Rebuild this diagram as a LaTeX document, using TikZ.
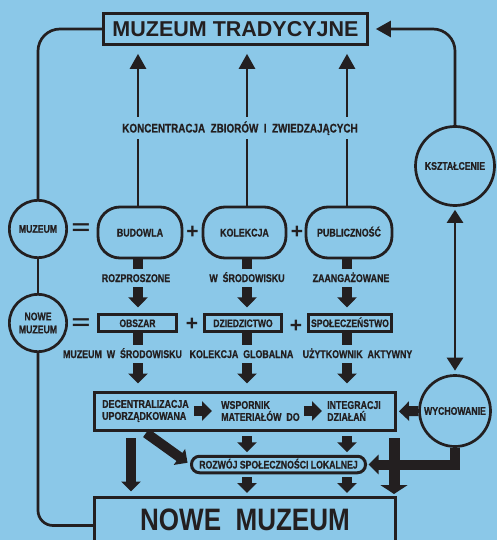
\documentclass[tikz,border=0pt]{standalone}
\usepackage{fontspec}
\usepackage{graphicx}
\setmainfont{Liberation Sans}
\newfontfamily\nf{Liberation Sans}[FakeStretch=0.79,FakeBold=0.7]
\newfontfamily\nmf{Liberation Sans}[FakeStretch=0.84]
\newfontfamily\wf{Liberation Sans}
\usetikzlibrary{arrows.meta,calc}
\definecolor{bg}{HTML}{8BC8E8}
\definecolor{ink}{HTML}{231F20}
\begin{document}
\begin{tikzpicture}[x=1pt,y=-1pt,
  every node/.style={text=ink},
  lbl/.style={font=\nf\bfseries\fontsize{11.2}{13}\selectfont, inner sep=0pt, text height=8pt, text depth=0pt},
  mlbl/.style={font=\nf\bfseries\fontsize{11.2}{12}\selectfont, inner sep=0pt, align=left, anchor=west},
  thinline/.style={draw=ink, line width=2.7pt},
  thinarrow/.style={thinline, -{Triangle[width=16pt,length=15pt]}},
  fat/.style={draw=ink, line width=10pt, -{Triangle[width=19pt,length=10pt]}},
  fatbig/.style={draw=ink, line width=11pt, -{Triangle[width=27pt,length=9pt]}},
  stub/.style={draw=ink, line width=10pt},
  rbox/.style={lbl, draw=ink, line width=2.8pt, rounded corners=22pt, minimum height=51pt},
  sbox/.style={lbl, draw=ink, line width=3.2pt, minimum height=17pt, font=\nf\bfseries\fontsize{10.8}{12}\selectfont},
  circ/.style={draw=ink, circle, line width=2.7pt, inner sep=0pt, align=center, font=\nf\bfseries\fontsize{11}{13}\selectfont},
  sign/.style={font=\wf\bfseries\fontsize{21}{21}\selectfont, inner sep=0pt},
  eqsign/.style={font=\wf\bfseries\fontsize{32}{32}\selectfont, inner sep=0pt},
]
\fill[bg] (0,0) rectangle (497,540);
\useasboundingbox (0,0) rectangle (497,540);

\coordinate (cA) at (138,0);
\coordinate (cB) at (247,0);
\coordinate (cC) at (347,0);

% title
\node[draw=ink, line width=2.7pt, minimum width=264pt, minimum height=31pt, inner sep=0pt,
      text height=15.5pt, text depth=0pt, font=\wf\bfseries\fontsize{21.5}{22}\selectfont]
      (title) at (235.5,29) {MUZEUM TRADYCYJNE};
\node[lbl, font=\nf\bfseries\fontsize{12.5}{14}\selectfont, text height=9pt, minimum height=22pt]
      (konc) at (240,128) {KONCENTRACJA\ \ ZBIORÓW\ \ I\ \ ZWIEDZAJĄCYCH};

% circles
\node[circ, minimum size=57.3pt] (muzeum) at (38,229) {MUZEUM};
\node[circ, minimum size=57.3pt] (nowe) at (38,323) {NOWE\\MUZEUM};
\node[circ, minimum size=79pt] (kszt) at (455,166) {KSZTAŁCENIE};
\node[circ, minimum size=71pt] (wych) at (455,411) {WYCHOWANIE};

% row 1
\node[rbox, minimum width=84pt] (budowla) at (140,232.5) {BUDOWLA};
\node[rbox, minimum width=83pt] (kolekcja) at (244.5,232.5) {KOLEKCJA};
\node[rbox, minimum width=86pt] (publ) at (349,232.5) {PUBLICZNOŚĆ};
\node[eqsign] (eq1) at (81,229.5) {\scalebox{1}[0.65]{=}};
\node[sign] (p1) at (192.5,232) {+};
\node[sign] (p2) at (297,232) {+};

% row 2
\node[sbox, minimum width=78pt] (obszar) at (137.5,323) {OBSZAR};
\node[sbox, minimum width=77pt] (dziedz) at (243,323) {DZIEDZICTWO};
\node[sbox, minimum width=83pt] (spol) at (350,323) {SPOŁECZEŃSTWO};
\node[eqsign] (eq2) at (81,324.5) {\scalebox{1}[0.65]{=}};
\node[sign] (p3) at (192,324.5) {+};
\node[sign] (p4) at (296,326) {+};

% labels
\node[lbl, minimum height=18pt] (rozp) at (136,278) {ROZPROSZONE};
\node[lbl, minimum height=18pt] (wsr) at (247,278) {W\ \ ŚRODOWISKU};
\node[lbl, minimum height=18pt] (zaang) at (351,278) {ZAANGAŻOWANE};
\node[lbl, minimum height=18pt] (mws) at (122.5,354) {MUZEUM\ \ W\ \ ŚRODOWISKU};
\node[lbl, minimum height=18pt] (kglob) at (241.5,354) {KOLEKCJA\ \ GLOBALNA};
\node[lbl, minimum height=18pt] (uzyt) at (357.5,354) {UŻYTKOWNIK\ \ AKTYWNY};

% big box
\node[draw=ink, line width=3pt, minimum width=301pt, minimum height=38pt, inner sep=0pt] (big) at (245,411.5) {};
\node[mlbl] (dec) at (102,411) {DECENTRALIZACJA\\UPORZĄDKOWANA};
\node[mlbl] (wsp) at (221,411) {WSPORNIK\\MATERIAŁÓW\ \ DO};
\node[mlbl] (integ) at (327,411) {INTEGRACJI\\DZIAŁAŃ};

% rozwoj
\node[lbl, draw=ink, line width=3pt, rounded corners=8pt, minimum width=174pt, minimum height=16.5pt,
      font=\nf\bfseries\fontsize{11}{12}\selectfont] (rozwoj) at (278.5,464.5) {ROZWÓJ\ SPOŁECZNOŚCI\ LOKALNEJ};

% nowe muzeum box
\node[draw=ink, line width=3pt, minimum width=301pt, minimum height=56pt, inner sep=0pt,
      text height=22pt, text depth=12pt, font=\nmf\bfseries\fontsize{31}{31}\selectfont]
      (nm) at (245,525.5) {NOWE\ \ MUZEUM};

\coordinate (la) at (131,438);
\coordinate (da) at (146,433);
\coordinate (ra) at (394,438);

% left loop
\draw[thinline, rounded corners=22pt] (title.west) -| (muzeum.north);
\draw[thinline] (muzeum.south) -- (nowe.north);
\draw[thinline, rounded corners=15pt] (nowe.south) |- (nm.west);

% right loop
\draw[thinarrow, rounded corners=22pt, shorten >=7pt] (kszt.north) |- (title.east);
\draw[thinline, {Triangle[width=16pt,length=13pt]}-{Triangle[width=16pt,length=13pt]},
      shorten <=3pt, shorten >=3.5pt] (kszt.south) -- (kszt.south |- wych.north);

% up arrows
\foreach \c/\b in {cA/budowla,cB/kolekcja,cC/publ}{
  \draw[thinline] (\c |- \b.north) -- (\c |- konc.south);
  \draw[thinarrow, shorten >=8pt] (\c |- konc.north) -- (\c |- title.south);
}

% row1 -> row2
\foreach \c/\b/\l/\n in {cA/budowla/rozp/obszar,cB/kolekcja/wsr/dziedz,cC/publ/zaang/spol}{
  \draw[stub] (\c |- \b.south) -- (\c |- \l.north);
  \draw[fat, shorten >=5.5pt] (\c |- \l.south) -- (\c |- \n.north);
}
% row2 -> big
\foreach \c/\b/\l in {cA/obszar/mws,cB/dziedz/kglob,cC/spol/uzyt}{
  \draw[stub] (\c |- \b.south) -- (\c |- \l.north);
  \draw[fat, shorten >=7.5pt] (\c |- \l.south) -- (\c |- big.north);
}

% inside big box
\draw[fat, shorten <=5pt, shorten >=9pt] (dec.east) -- (wsp.west);
\draw[fat, shorten <=4pt, shorten >=5pt] (wsp.east) -- (integ.west);
\draw[fat, shorten >=2pt] (wych.west) -- (big.east);

% below big box
\draw[fat, shorten >=4.5pt] (la) -- (la |- nm.north);
\draw[fat, shorten >=3pt] (da) -- (rozwoj.west);
\foreach \c in {cB,cC}{
  \draw[fat, shorten <=4pt, shorten >=2.5pt] (\c |- big.south) -- (\c |- rozwoj.north);
  \draw[fat, shorten <=3pt, shorten >=3pt] (\c |- rozwoj.south) -- (\c |- nm.north);
}
\draw[fat, shorten >=1.5pt] (wych.south) |- (rozwoj.east);
\draw[fatbig, shorten >=2pt] (ra) -- (ra |- nm.north);
\end{tikzpicture}
\end{document}
